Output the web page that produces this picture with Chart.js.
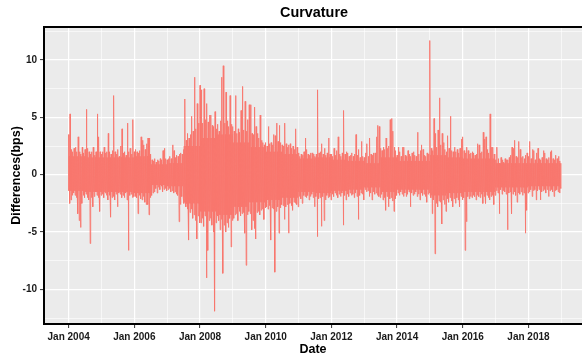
<!DOCTYPE html>
<html>
<head>
<meta charset="utf-8">
<script src="https://cdn.jsdelivr.net/npm/chart.js@4"></script>
<style>
  html, body { margin: 0; padding: 0; background: #fff; overflow: hidden; }
  #wrap { width: 582px; height: 358px; }
</style>
</head>
<body>
<div id="wrap"><canvas id="curv" width="582" height="358"></canvas></div>
<script>
// half-month highs and lows of the daily differences (bps), Jan 2004 .. Dec 2018, 24 per year
const upper = [
  /*2004*/ 3.5, 5.3, 2.2, 2.0, 2.3, 2.4, 2.0, 3.3, 2.0, 1.8, 2.4, 1.9, 2.2, 5.7, 2.3, 2.0, 1.8, 2.0, 2.4, 1.7, 2.0, 5.3, 3.3, 2.0,
  /*2005*/ 1.8, 2.0, 2.4, 1.9, 2.0, 3.6, 2.0, 1.8, 2.1, 6.9, 2.0, 1.8, 2.2, 1.6, 2.5, 4.0, 1.9, 2.0, 1.7, 4.5, 2.0, 2.3, 1.8, 4.8,
  /*2006*/ 2.0, 2.2, 2.0, 1.9, 2.1, 3.3, 3.0, 2.6, 2.2, 2.7, 3.2, 3.2, 1.8, 1.3, 1.2, 1.4, 1.1, 1.3, 1.2, 1.4, 1.3, 2.1, 2.3, 1.4,
  /*2007*/ 1.3, 1.4, 1.6, 1.4, 2.6, 2.1, 1.5, 1.7, 1.6, 1.8, 1.9, 1.8, 2.2, 6.6, 3.0, 3.6, 3.2, 3.5, 5.1, 3.8, 8.5, 4.0, 6.2, 4.5,
  /*2008*/ 7.8, 7.4, 4.5, 7.5, 4.8, 6.2, 4.6, 5.2, 5.2, 4.3, 4.2, 5.5, 4.0, 4.4, 3.8, 4.7, 8.5, 9.5, 4.5, 7.2, 4.7, 4.2, 6.9, 4.4,
  /*2009*/ 4.2, 3.8, 6.9, 3.6, 4.0, 3.7, 5.6, 7.7, 3.9, 6.4, 3.8, 4.8, 6.1, 6.1, 3.6, 3.5, 5.9, 4.2, 3.6, 3.2, 5.2, 3.0, 2.8, 2.6,
  /*2010*/ 2.8, 2.5, 4.2, 2.7, 2.8, 2.6, 3.5, 3.4, 4.5, 2.9, 4.3, 2.8, 2.6, 2.5, 4.5, 2.7, 2.4, 2.6, 2.7, 2.3, 2.5, 2.2, 4.0, 2.4,
  /*2011*/ 1.9, 1.6, 1.8, 1.7, 2.0, 3.2, 2.2, 1.8, 1.7, 1.9, 1.9, 1.8, 1.6, 1.8, 7.4, 1.9, 2.0, 2.7, 1.8, 2.3, 1.7, 1.9, 3.2, 1.8,
  /*2012*/ 1.8, 1.6, 2.3, 1.7, 2.1, 3.3, 1.8, 1.6, 1.9, 5.6, 1.8, 2.0, 1.9, 1.6, 1.7, 1.9, 1.6, 1.8, 3.5, 1.7, 2.2, 1.5, 2.9, 1.6,
  /*2013*/ 1.5, 1.9, 2.7, 1.6, 3.2, 1.8, 1.7, 1.9, 1.9, 3.3, 4.3, 4.2, 2.3, 2.1, 2.4, 2.2, 3.2, 2.3, 2.5, 4.8, 4.9, 3.8, 2.4, 2.1,
  /*2014*/ 1.7, 2.4, 2.0, 1.6, 2.4, 2.4, 1.7, 1.6, 2.1, 1.8, 1.6, 1.9, 2.0, 1.7, 1.6, 3.7, 1.8, 2.1, 2.6, 2.2, 1.7, 1.6, 1.9, 1.8,
  /*2015*/ 11.7, 2.3, 2.1, 4.9, 3.6, 2.4, 3.9, 6.7, 2.6, 3.6, 2.8, 2.2, 2.0, 3.4, 2.3, 5.1, 2.1, 2.0, 2.4, 2.0, 2.2, 1.9, 2.3, 3.1,
  /*2016*/ 3.3, 2.1, 1.9, 2.4, 2.1, 1.8, 1.9, 2.0, 1.9, 1.7, 1.8, 2.7, 2.6, 1.9, 2.0, 3.7, 3.1, 3.3, 2.2, 1.9, 5.3, 2.4, 2.4, 1.8,
  /*2017*/ 1.3, 2.4, 1.4, 1.0, 1.5, 1.3, 1.1, 1.4, 1.3, 1.3, 1.5, 1.7, 2.4, 2.3, 3.0, 1.6, 1.5, 2.9, 2.2, 1.5, 1.6, 1.4, 1.7, 1.9,
  /*2018*/ 1.6, 2.9, 1.4, 2.2, 2.1, 1.3, 1.9, 2.3, 1.4, 1.3, 1.5, 2.1, 1.9, 1.4, 1.3, 1.5, 2.0, 2.1, 1.4, 1.3, 1.7, 1.4, 1.6, 1.2
];
const lower = [
  /*2004*/ -2.5, -2.2, -1.8, -1.6, -1.8, -2.0, -3.4, -4.0, -4.6, -2.5, -1.8, -2.0, -1.7, -2.0, -2.2, -6.0, -2.0, -2.8, -1.9, -1.5, -1.8, -2.0, -3.2, -1.8,
  /*2005*/ -1.7, -2.0, -1.6, -1.8, -2.2, -1.8, -3.7, -2.0, -1.9, -2.2, -1.7, -2.8, -1.6, -1.7, -2.0, -1.8, -2.0, -1.6, -2.2, -6.6, -1.8, -1.7, -2.0, -1.9,
  /*2006*/ -1.9, -2.0, -3.4, -1.8, -2.1, -2.2, -1.9, -2.4, -2.6, -2.6, -3.5, -2.0, -1.8, -1.6, -1.5, -1.2, -1.6, -1.1, -1.3, -1.0, -1.5, -1.3, -1.2, -1.4,
  /*2007*/ -1.3, -1.2, -1.5, -1.4, -1.6, -1.5, -1.7, -1.8, -4.1, -2.6, -1.9, -2.0, -2.4, -2.8, -3.0, -5.7, -3.3, -3.0, -3.8, -3.5, -4.0, -5.6, -3.6, -4.2,
  /*2008*/ -4.2, -3.8, -4.5, -3.6, -9.0, -6.6, -4.0, -3.8, -4.4, -5.0, -11.9, -4.2, -3.6, -4.0, -4.8, -3.9, -8.6, -4.4, -5.0, -4.2, -4.6, -3.8, -6.3, -4.0,
  /*2009*/ -3.8, -3.5, -3.4, -4.0, -3.2, -3.6, -3.4, -3.3, -5.1, -7.9, -3.5, -3.2, -3.4, -4.8, -4.0, -4.7, -5.6, -3.3, -3.2, -3.5, -3.1, -3.0, -3.9, -2.9,
  /*2010*/ -2.8, -3.0, -2.7, -5.7, -2.9, -3.0, -8.5, -3.2, -2.8, -5.1, -2.9, -2.6, -2.7, -3.9, -2.8, -2.6, -5.1, -2.5, -2.7, -3.1, -2.4, -2.5, -2.6, -2.8,
  /*2011*/ -1.9, -2.1, -2.5, -1.8, -1.9, -2.0, -1.8, -2.2, -1.9, -1.7, -2.0, -2.8, -1.9, -5.4, -2.1, -2.0, -4.5, -1.9, -4.0, -2.2, -1.8, -2.0, -1.9, -2.2,
  /*2012*/ -1.7, -1.9, -1.6, -1.8, -2.0, -1.7, -1.9, -1.6, -4.4, -1.8, -2.2, -1.7, -1.9, -1.6, -1.8, -1.7, -2.0, -1.6, -1.9, -3.9, -1.8, -1.6, -1.7, -2.2,
  /*2013*/ -1.3, -1.5, -1.4, -1.9, -1.6, -2.2, -1.5, -1.7, -1.6, -1.8, -1.9, -2.0, -1.7, -2.2, -2.0, -3.1, -1.9, -2.8, -2.1, -2.0, -2.3, -3.2, -2.1, -1.8,
  /*2014*/ -1.6, -1.8, -1.5, -1.7, -1.9, -1.6, -1.9, -1.7, -1.5, -2.8, -1.6, -1.8, -1.7, -1.5, -1.9, -1.7, -2.2, -1.6, -1.8, -1.7, -1.9, -2.4, -1.7, -1.6,
  /*2015*/ -2.0, -3.4, -2.2, -6.9, -2.5, -2.8, -2.3, -2.4, -4.3, -2.2, -2.6, -3.2, -2.1, -2.4, -2.0, -2.3, -2.8, -2.1, -2.5, -2.0, -2.2, -2.8, -1.9, -2.2,
  /*2016*/ -2.0, -6.6, -4.1, -1.9, -2.1, -1.9, -2.0, -1.8, -1.9, -2.2, -1.8, -1.9, -2.0, -1.7, -2.5, -1.9, -2.5, -1.8, -2.0, -2.2, -1.9, -1.8, -2.6, -1.8,
  /*2017*/ -1.4, -1.6, -3.4, -1.3, -1.7, -1.4, -1.5, -1.7, -4.8, -1.6, -1.5, -3.4, -1.7, -1.5, -1.8, -2.4, -1.6, -1.7, -1.5, -1.8, -1.6, -5.1, -3.1, -1.6,
  /*2018*/ -1.5, -1.3, -1.9, -1.4, -1.3, -2.2, -1.4, -1.3, -2.2, -1.5, -1.4, -1.3, -1.6, -1.3, -1.9, -1.4, -1.3, -1.5, -1.9, -1.4, -1.3, -1.5, -1.6, -1.2
];
// edges of the dense core of the series, one per half-year
const coreUpper = [1.6, 1.5, 1.5, 1.5, 1.6, 0.9, 1.0, 2.5, 3.2, 3.5, 2.8, 2.4, 2.0, 1.8, 1.4, 1.5,
                   1.3, 1.2, 1.0, 1.5, 1.2, 1.2, 1.7, 1.5, 1.4, 1.4, 1.0, 1.0, 1.0, 1.0];
const coreLower = [-1.4, -1.5, -1.5, -1.5, -1.6, -0.9, -1.0, -2.5, -3.2, -3.5, -2.8, -2.4, -2.2, -2.0, -1.5, -1.6,
                   -1.4, -1.3, -1.1, -1.5, -1.3, -1.3, -1.8, -1.6, -1.5, -1.5, -1.1, -1.1, -1.0, -1.0];
const startYear = 2004;
const perYear = 24;
const tickYears = [2003, 2004, 2005, 2006, 2007, 2008, 2009, 2010, 2011, 2012, 2013, 2014, 2015, 2016, 2017, 2018, 2019];
const yTicks = [-12.5, -10, -7.5, -5, -2.5, 0, 2.5, 5, 7.5, 10, 12.5];

// interleave high, core and low readings so the line zigzags like the daily series
const points = [];
upper.forEach((hi, i) => {
  const t = startYear + i / perYear;
  const h = Math.floor(i / 12);
  const step = 0.25 / perYear;
  points.push({x: t, y: hi});
  points.push({x: t + step, y: coreLower[h]});
  points.push({x: t + 2 * step, y: coreUpper[h]});
  points.push({x: t + 3 * step, y: lower[i]});
});

const panel = {
  id: 'panel',
  beforeDraw(chart) {
    const {ctx, chartArea: a} = chart;
    ctx.save();
    ctx.fillStyle = '#EBEBEB';
    ctx.fillRect(a.left, a.top, a.right - a.left, a.bottom - a.top);
    ctx.restore();
  },
  afterDraw(chart) {
    const {ctx, chartArea: a} = chart;
    ctx.save();
    ctx.strokeStyle = '#000';
    ctx.lineWidth = 2;
    ctx.beginPath();
    ctx.moveTo(a.right + 2, a.top);
    ctx.lineTo(a.left, a.top);
    ctx.lineTo(a.left, a.bottom);
    ctx.lineTo(a.right + 2, a.bottom);
    ctx.stroke();
    // title centred on the (partly cropped) panel
    ctx.fillStyle = '#000';
    ctx.font = 'bold 14.4px "Liberation Sans", Arial, sans-serif';
    ctx.textAlign = 'center';
    ctx.textBaseline = 'middle';
    ctx.fillText('Curvature', 314, 13);
    ctx.restore();
  }
};

const tickFont = {family: '"Liberation Sans", Arial, sans-serif', size: 10, weight: 'bold'};
const titleFont = {family: '"Liberation Sans", Arial, sans-serif', size: 12.5, weight: 'bold'};

new Chart(document.getElementById('curv'), {
  type: 'line',
  data: {
    datasets: [{
      label: 'Curvature',
      data: points,
      borderColor: '#F8766D',
      borderWidth: 0.9,
      pointRadius: 0,
      tension: 0,
      fill: false
    }]
  },
  options: {
    responsive: false,
    animation: false,
    parsing: false,
    normalized: true,
    layout: {padding: {top: 27, right: 0, bottom: 0, left: 0}},
    plugins: {legend: {display: false}, tooltip: {enabled: false}},
    scales: {
      x: {
        type: 'linear',
        min: 2003.25,
        max: 2019.63,
        afterFit: s => { s.height = 34; },
        afterBuildTicks: s => { s.ticks = tickYears.map(v => ({value: v})); },
        border: {display: false},
        grid: {
          color: '#FFFFFF',
          lineWidth: c => (c.tick && c.tick.value % 2 === 0 ? 1.2 : 0.6),
          tickColor: c => (c.tick && c.tick.value % 2 === 0 ? '#333333' : 'rgba(0,0,0,0)'),
          tickWidth: 1,
          tickLength: 4
        },
        ticks: {
          autoSkip: false,
          maxRotation: 0,
          padding: 3,
          color: '#1a1a1a',
          font: tickFont,
          callback: v => (v % 2 === 0 ? 'Jan ' + v : '')
        },
        title: {display: true, text: 'Date', color: '#000', font: titleFont, padding: {top: 0, bottom: 0.5}}
      },
      y: {
        min: -13.02,
        max: 12.88,
        afterFit: s => { s.width = 44; },
        afterBuildTicks: s => { s.ticks = yTicks.map(v => ({value: v})); },
        border: {display: false},
        grid: {
          color: '#FFFFFF',
          lineWidth: c => (c.tick && c.tick.value % 5 === 0 ? 1.2 : 0.6),
          tickColor: c => (c.tick && c.tick.value % 5 === 0 ? '#333333' : 'rgba(0,0,0,0)'),
          tickWidth: 1,
          tickLength: 4
        },
        ticks: {
          padding: 3,
          color: '#1a1a1a',
          font: tickFont,
          callback: v => (v % 5 === 0 ? String(v) : '')
        },
        title: {display: true, text: 'Differences(bps)', color: '#000', font: titleFont, padding: {top: 9.5, bottom: 0}}
      }
    }
  },
  plugins: [panel]
});
</script>
</body>
</html>
